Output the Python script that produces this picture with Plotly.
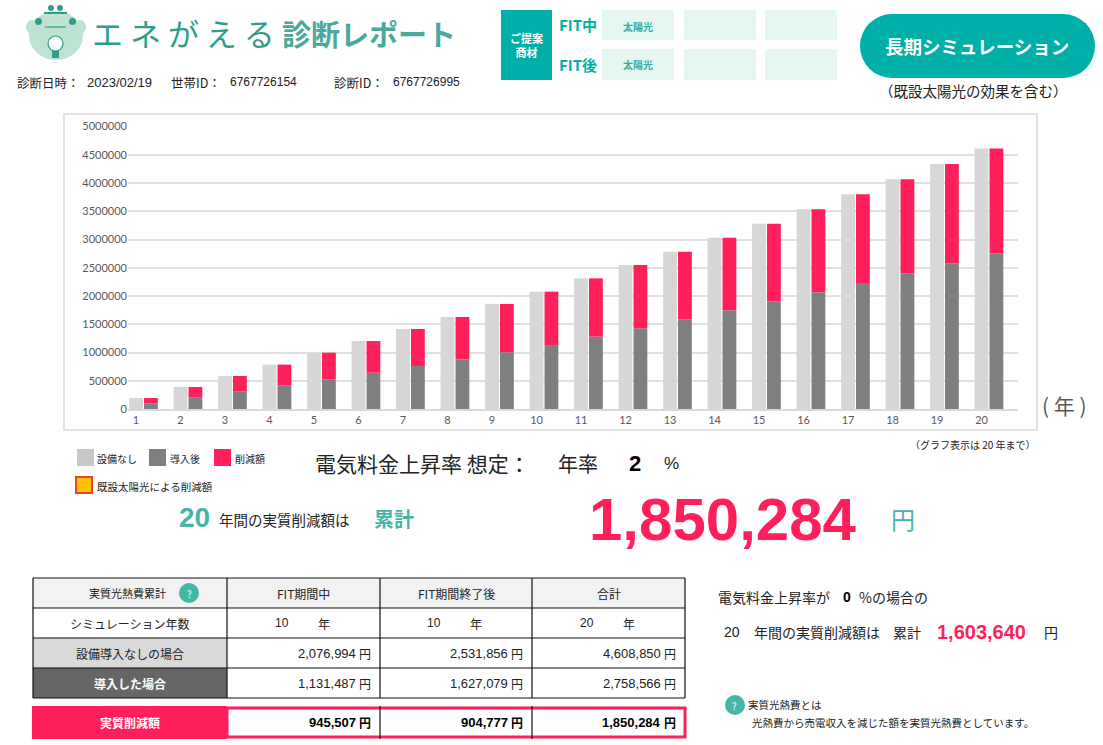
import plotly.graph_objects as go

W = 1103
H = 745

TEAL = '#00B0A8'
TEAL_TEXT = '#45B5A8'
MINT = '#E6F6F1'
RED = '#FF1F5A'
JP = 'Noto Sans CJK JP'
SANS = 'Liberation Sans, Noto Sans CJK JP'

years = list(range(1, 21))
no_equipment = [194000, 389000, 584000, 785000, 997000, 1203000, 1416000, 1628000, 1858000, 2076994,
                2312000, 2549000, 2784000, 3032000, 3280000, 3534000, 3799000, 4065000, 4336000, 4608850]
after_install = [100000, 200000, 307000, 413000, 525000, 643000, 761000, 879000, 1003000, 1131487,
                 1280000, 1428000, 1587000, 1746000, 1906000, 2065000, 2230000, 2401000, 2578000, 2758566]
savings = [94000, 189000, 277000, 372000, 472000, 560000, 655000, 749000, 855000, 945507,
           1032000, 1121000, 1197000, 1286000, 1374000, 1469000, 1569000, 1664000, 1758000, 1850284]

table_header = ['実質光熱費累計', 'FIT期間中', 'FIT期間終了後', '合計']
row_labels = ['シミュレーション年数', '設備導入なしの場合', '導入した場合']
sim_years = ['10', '10', '20']
no_install_costs = ['2,076,994', '2,531,856', '4,608,850']
install_costs = ['1,131,487', '1,627,079', '2,758,566']
saving_totals = ['945,507', '904,777', '1,850,284']

shapes = []
annotations = []


def px(x):
    return x / W


def py(y):
    return 1 - y / H


def box(x0, y0, x1, y1, fill=None, line=None, width=1, kind='rect'):
    shapes.append(dict(
        type=kind, xref='paper', yref='paper',
        x0=px(x0), x1=px(x1), y0=py(y0), y1=py(y1),
        fillcolor=fill if fill else 'rgba(0,0,0,0)',
        line=dict(color=line if line else 'rgba(0,0,0,0)', width=width if line else 0),
    ))


def seg(x0, y0, x1, y1, color, width=1):
    shapes.append(dict(
        type='line', xref='paper', yref='paper',
        x0=px(x0), x1=px(x1), y0=py(y0), y1=py(y1),
        line=dict(color=color, width=width),
    ))


def label(x, y, s, size=12, color='#222222', anchor='left', bold=False, family=JP):
    annotations.append(dict(
        xref='paper', yref='paper', x=px(x), y=py(y),
        text='<b>%s</b>' % s if bold else s,
        showarrow=False, xanchor=anchor, yanchor='middle',
        font=dict(size=size, color=color, family=family),
        borderpad=0, align='center',
    ))


def money(right, y, value, bold=False):
    label(right - 15, y, value, size=13, color='#000000' if bold else '#222222', anchor='right', bold=bold, family=SANS)
    label(right, y, '円', size=12, color='#000000' if bold else '#222222', anchor='right', bold=bold)


fig = go.Figure()
fig.add_trace(go.Bar(x=years, y=no_equipment, name='設備なし', marker_color='#D6D6D6',
                     width=0.31, offset=-0.155, marker_line_width=0))
fig.add_trace(go.Bar(x=years, y=after_install, name='導入後', marker_color='#7F7F7F',
                     width=0.31, offset=0.18, marker_line_width=0))
fig.add_trace(go.Bar(x=years, y=savings, base=after_install, name='削減額', marker_color=RED,
                     width=0.31, offset=0.18, marker_line_width=0))

# header: logo
box(29, 11, 83, 60, fill='#BFE3D3', kind='circle')
box(26, 20, 38, 34, fill='#BFE3D3', kind='circle')
box(74, 20, 86, 34, fill='#BFE3D3', kind='circle')
box(48, 5, 54, 11, fill='#2E9E8B', kind='circle')
box(57, 5, 63, 11, fill='#2E9E8B', kind='circle')
seg(44, 13, 67, 13, '#2E9E8B', 2)
box(35, 18, 42, 25, fill='#2E9E8B', kind='circle')
box(69, 18, 76, 25, fill='#2E9E8B', kind='circle')
seg(45, 27, 66, 27, '#2E9E8B', 1.2)
box(48, 36, 63, 51, fill='#FFFFFF', line='#2E9E8B', width=1.2, kind='circle')
box(52, 51, 59, 58, fill='#2E9E8B')

# header: title
label(91, 33, 'エ ネ が え る', size=31, color='#2E9E8B')
label(281, 33, '<b>診断レポート</b>', size=29, color='#4AA99B')
label(16, 82, '診断日時：', size=12.5)
label(86, 82, '2023/02/19', size=13, family=SANS)
label(170, 82, '世帯ID：', size=12.5)
label(229, 82, '6767726154', size=12, family=SANS)
label(333, 82, '診断ID：', size=12.5)
label(392, 82, '6767726995', size=12, family=SANS)

# header: proposal grid
box(501, 10, 552, 80, fill=TEAL)
label(526, 45, 'ご提案<br>商材', size=11, color='#FFFFFF', anchor='center', bold=True)
label(558, 25, 'FIT中', size=15, color=TEAL, bold=True)
label(558, 64, 'FIT後', size=15, color=TEAL, bold=True)
for x0 in (602, 684, 765):
    box(x0, 10, x0 + 72, 40, fill=MINT)
    box(x0, 49, x0 + 72, 80, fill=MINT)
label(638, 26, '太陽光', size=10, color='#36ADA0', anchor='center', bold=True)
label(638, 65, '太陽光', size=10, color='#36ADA0', anchor='center', bold=True)

# header: pill button
box(860, 14, 924, 78, fill=TEAL, kind='circle')
box(1031, 14, 1095, 78, fill=TEAL, kind='circle')
box(892, 14, 1063, 78, fill=TEAL)
label(977, 46, '長期シミュレーション', size=18.5, color='#FFFFFF', anchor='center', bold=True)
label(973, 90, '（既設太陽光の効果を含む）', size=14.5, anchor='center')

# chart frame and side notes
box(64, 114, 1037, 430, line='#D9D9D9', width=1.5)
label(1041, 405, '( 年 )', size=21, color='#595959')
label(1037, 444, '（グラフ表示は 20 年まで）', size=10, anchor='right')

# legend
for x0, y0, color, name, x_text in [(77, 449, '#C8C8C8', '設備なし', 96), (149, 449, '#7F7F7F', '導入後', 169),
                                    (214, 449, RED, '削減額', 234)]:
    box(x0, y0, x0 + 17, y0 + 17, fill=color)
    label(x_text, y0 + 9, name, size=10)
box(76, 477, 92, 493, fill='#FFC000', line='#E8452C', width=2)
label(96, 486, '既設太陽光による削減額', size=10.5)

# assumption line and total
label(314, 463, '電気料金上昇率 想定：', size=21)
label(557, 463, '年率', size=20)
label(628, 463, '2', size=22, color='#000000', bold=True, family=SANS)
label(663, 463, '%', size=17, family=SANS)
label(178, 517, '20', size=28, color=TEAL_TEXT, bold=True, family=SANS)
label(218, 519, '年間の実質削減額は', size=14.5)
label(373, 518, '累計', size=20, color=TEAL_TEXT, bold=True)
label(588, 519, saving_totals[2], size=60, color=RED, bold=True, family=SANS)
label(890, 518, '円', size=24, color=TEAL_TEXT)

# table
col_x = [33, 227, 380, 532, 685]
row_y = [578, 608, 638, 668, 698]
box(33, 578, 685, 608, fill='#F2F2F2')
box(33, 638, 227, 668, fill='#D9D9D9')
box(33, 668, 227, 698, fill='#666666')
for x in col_x:
    seg(x, 578, x, 698, '#111111', 1.2)
for y in row_y:
    seg(33, y, 685, y, '#111111', 1.2)

label(88, 593, table_header[0], size=11)
box(179, 583, 199, 603, fill=TEAL_TEXT, kind='circle')
label(189, 593, '?', size=10, color='#FFFFFF', anchor='center')
for ii in range(3):
    cx = (col_x[ii + 1] + col_x[ii + 2]) / 2
    label(cx, 593, table_header[ii + 1], size=12, anchor='center')
    right = col_x[ii + 2] - 8
    label(cx - 22, 623, sim_years[ii], size=12, anchor='center', family=SANS)
    label(cx + 20, 623, '年', size=12, anchor='center')
    money(right, 653, no_install_costs[ii])
    money(right, 683, install_costs[ii])
label(130, 623, row_labels[0], size=12, anchor='center')
label(130, 653, row_labels[1], size=12, anchor='center')
label(130, 683, row_labels[2], size=12, color='#FFFFFF', anchor='center', bold=True)

# savings row
box(32, 706, 227, 739, fill=RED)
box(227, 708, 685, 737, fill='#FFFFFF', line=RED, width=3)
seg(380, 706, 380, 739, '#111111', 1.2)
seg(532, 706, 532, 739, '#111111', 1.2)
label(130, 722, '実質削減額', size=12, color='#FFFFFF', anchor='center', bold=True)
for ii in range(3):
    money(col_x[ii + 2] - 8, 722, saving_totals[ii], bold=True)

# right side notes
label(717, 597, '電気料金上昇率が', size=14)
label(842, 597, '0', size=14, color='#000000', bold=True, family=SANS)
label(858, 597, '%の場合の', size=14)
label(723, 632, '20', size=14, family=SANS)
label(753, 632, '年間の実質削減額は', size=14)
label(892, 632, '累計', size=14)
label(936, 632, '1,603,640', size=20, color=RED, bold=True, family=SANS)
label(1043, 632, '円', size=14)
box(725, 695, 745, 715, fill=TEAL_TEXT, kind='circle')
label(735, 705, '?', size=10, color='#FFFFFF', anchor='center')
label(747, 704, '実質光熱費とは', size=10.5)
label(751, 722, '光熱費から売電収入を減じた額を実質光熱費としています。', size=10.5)

fig.update_layout(
    width=W, height=H,
    margin=dict(l=0, r=0, t=0, b=0),
    paper_bgcolor='#FFFFFF',
    plot_bgcolor='#FFFFFF',
    barmode='overlay',
    showlegend=False,
    shapes=shapes,
    annotations=annotations,
    font=dict(family='Lato, Noto Sans CJK JP', color='#595959', size=11),
    xaxis=dict(
        domain=[px(128), px(1018)],
        range=[0.82, 20.82],
        automargin=False,
        tickmode='array', tickvals=years, ticktext=[str(y) for y in years],
        showgrid=False, zeroline=False, showline=True, linecolor='#D9D9D9', linewidth=1.5,
        ticks='', tickfont=dict(size=11, color='#595959'),
    ),
    yaxis=dict(
        domain=[py(409), py(126.5)],
        range=[0, 5000000],
        automargin=False,
        tick0=0, dtick=500000, tickformat='d',
        showgrid=True, gridcolor='#E0E0E0', gridwidth=1.5,
        zeroline=False, showline=False, ticks='',
        tickfont=dict(size=11, color='#595959'),
    ),
)

fig.write_html("out.html", config=dict(displayModeBar=False), post_script="document.body.style.margin='0';")
